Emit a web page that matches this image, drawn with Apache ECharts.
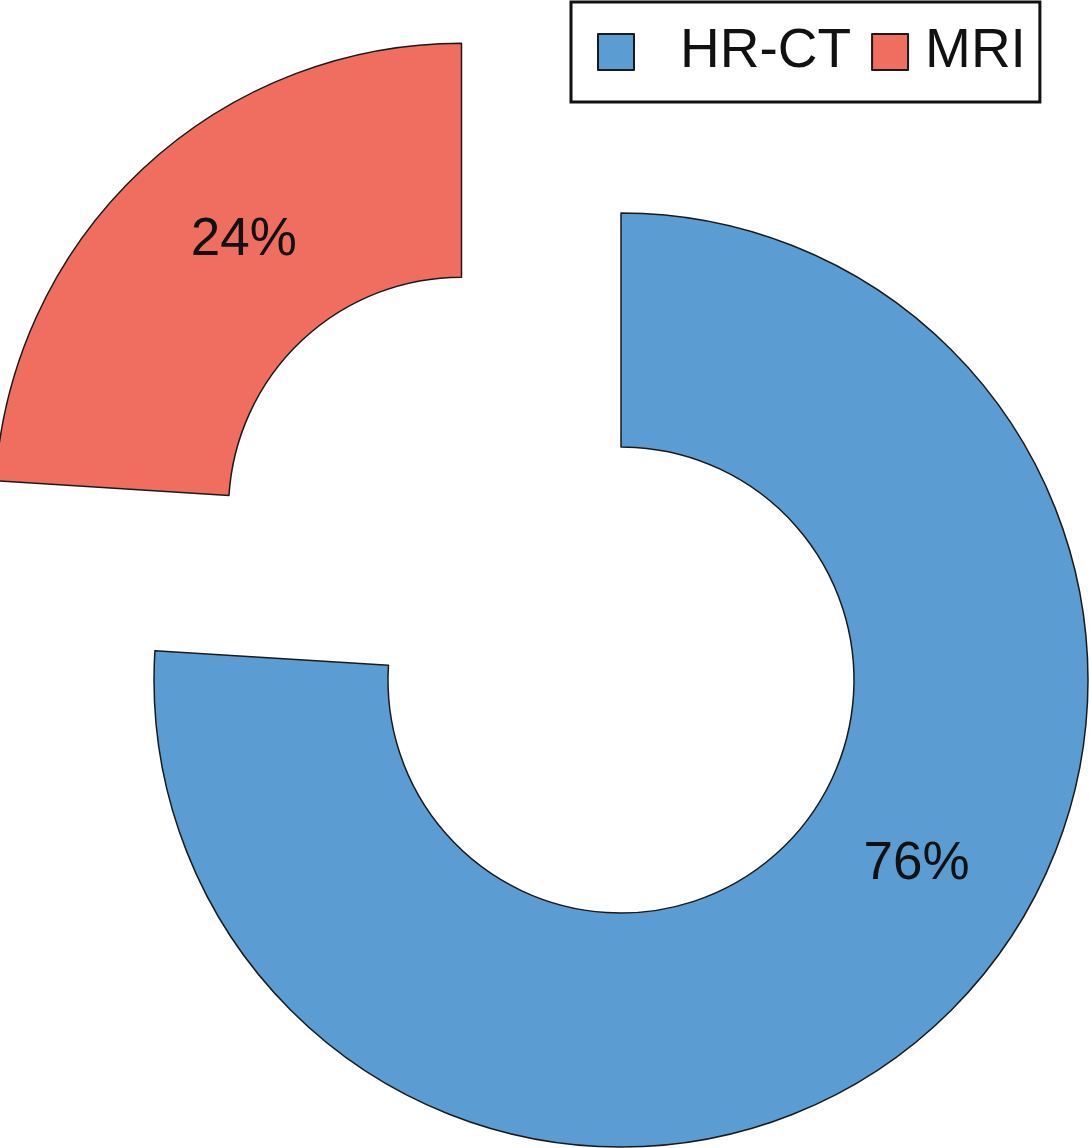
<!DOCTYPE html>
<html><head><meta charset="utf-8">
<script src="https://cdn.jsdelivr.net/npm/echarts@6/dist/echarts.min.js"></script>
<style>html,body{margin:0;padding:0;background:#fff}#c{width:1089px;height:1148px}</style>
</head><body><div id="c"></div>
<script>
const categories = ['HR-CT', 'MRI'];
const values = [76, 24];
const colors = ['#5B9DD3', '#F06E60'];
const labelShift = [[54, -73], [24, -12]];

const chart = echarts.init(document.getElementById('c'), null, {renderer: 'canvas'});
chart.setOption({
  animation: false,
  legend: {
    data: categories.map((n, i) => ({
      name: n,
      textStyle: {padding: [0, 0, 0, i === 0 ? 41 : 12]}
    })),
    left: 571, top: 2,
    orient: 'horizontal',
    icon: 'rect',
    itemWidth: 36, itemHeight: 36, itemGap: 20,
    borderColor: '#111', borderWidth: 3,
    padding: [22, 14, 22, 26],
    selectedMode: false,
    textStyle: {fontFamily: 'Liberation Sans, Arial, sans-serif', fontSize: 55, color: '#111', lineHeight: 56},
    itemStyle: {borderColor: '#1a1a1a', borderWidth: 2}
  },
  series: [{
    type: 'pie',
    center: [621, 680],
    radius: [233, 467],
    startAngle: 90,
    clockwise: true,
    selectedMode: 'single',
    selectedOffset: 233,
    avoidLabelOverlap: false,
    itemStyle: {borderColor: '#1a1a1a', borderWidth: 1.5},
    label: {
      show: true, position: 'inside',
      formatter: p => p.value + '%',
      fontFamily: 'Liberation Sans, Arial, sans-serif', fontSize: 53, color: '#111'
    },
    labelLine: {show: false},
    labelLayout: p => ({dx: labelShift[p.dataIndex][0], dy: labelShift[p.dataIndex][1]}),
    emphasis: {disabled: true},
    data: categories.map((n, i) => ({
      name: n, value: values[i], selected: i === 1,
      itemStyle: {color: colors[i]}
    }))
  }]
});
</script></body></html>
